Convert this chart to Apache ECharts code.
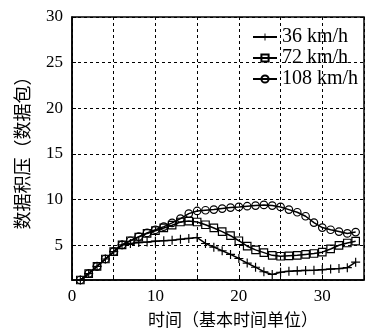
<!DOCTYPE html>
<html>
<head>
<meta charset="utf-8">
<script src="https://cdn.jsdelivr.net/npm/echarts@6/dist/echarts.min.js"></script>
<style>
html,body{margin:0;padding:0;background:#fff;}
#chart{width:367px;height:335px;}
</style>
</head>
<body>
<div id="chart"></div>
<script>
var times = [1,2,3,4,5,6,7,8,9,10,11,12,13,14,15,16,17,18,19,20,21,22,23,24,25,26,27,28,29,30,31,32,33,34];
var seriesNames = ['36 km/h', '72 km/h', '108 km/h'];
var v36 = [1.2,1.9,2.7,3.5,4.3,5.05,5.2,5.3,5.35,5.45,5.5,5.55,5.65,5.75,5.85,5.2,4.8,4.4,4.0,3.55,3.05,2.6,2.1,1.8,2.05,2.15,2.2,2.25,2.27,2.33,2.4,2.45,2.55,3.15];
var v72 = [1.2,1.9,2.7,3.5,4.3,5.05,5.5,5.9,6.3,6.6,6.9,7.2,7.55,7.65,7.55,7.25,6.9,6.5,6.05,5.5,4.9,4.5,4.2,3.9,3.8,3.85,3.9,4.0,4.1,4.25,4.6,5.0,5.25,5.45];
var v108 = [1.2,1.9,2.7,3.5,4.3,5.05,5.5,5.95,6.35,6.7,7.05,7.45,7.93,8.47,8.76,8.84,8.91,9.02,9.13,9.2,9.28,9.35,9.42,9.35,9.2,8.91,8.62,8.18,7.49,6.94,6.7,6.5,6.3,6.45];
var xName = '时间（基本时间单位）';
var yName = '数据积压（数据包）';

function pairs(vals){ return times.map(function(t,i){ return [t, vals[i]]; }); }

var serif = 'Liberation Serif';
var cjk = 'Noto Sans CJK SC';
var plus = 'path://M0,4.35H10V5.65H0Z M4.35,0H5.65V10H4.35Z';

function mk(name, vals, symbol, size, fillColor){
  return {
    name: name, type: 'line', data: pairs(vals),
    symbol: symbol, symbolSize: size, showAllSymbol: true,
    lineStyle: {color: '#000', width: 1.5},
    itemStyle: {color: fillColor, borderColor: '#000', borderWidth: symbol === plus ? 0 : 1.2},
    emphasis: {disabled: true},
    animation: false, z: 3
  };
}

var chart = echarts.init(document.getElementById('chart'), null, {renderer: 'canvas'});
chart.setOption({
  animation: false,
  backgroundColor: '#fff',
  grid: {left: 72, top: 17, right: -6, bottom: 55, show: true, borderColor: '#000', borderWidth: 1.5, backgroundColor: 'transparent'},
  legend: {
    orient: 'vertical', left: 252, top: 27, padding: 0, itemWidth: 24, itemHeight: 9, itemGap: 1,
    textStyle: {fontFamily: serif, fontSize: 20, color: '#000', lineHeight: 20},
    data: seriesNames
  },
  xAxis: {
    type: 'value', min: 0, max: 35, interval: 5,
    name: xName, nameLocation: 'middle', nameGap: 31,
    nameTextStyle: {fontFamily: cjk, fontSize: 17, color: '#000', padding: [0,0,0,30]},
    axisLine: {show: true, lineStyle: {color: '#000', width: 1.5}},
    axisTick: {show: true, inside: true, length: 4, lineStyle: {color: '#000'}},
    axisLabel: {fontFamily: serif, fontSize: 17, color: '#000', margin: 8,
      formatter: function(v){ return (v % 10 === 0) ? String(v) : ''; }},
    splitLine: {show: true, lineStyle: {color: '#000', width: 1, type: [3,3]}}
  },
  yAxis: {
    type: 'value', min: 1.2, max: 30, minInterval: 5, maxInterval: 5,
    name: yName, nameLocation: 'middle', nameGap: 41, nameRotate: 90,
    nameTextStyle: {fontFamily: cjk, fontSize: 18, color: '#000'},
    axisLine: {show: true, lineStyle: {color: '#000', width: 1.5}},
    axisTick: {show: true, inside: true, length: 4, lineStyle: {color: '#000'}},
    axisLabel: {fontFamily: serif, fontSize: 17, color: '#000', margin: 9, showMinLabel: false},
    splitLine: {show: true, lineStyle: {color: '#000', width: 1, type: [3,3]}}
  },
  series: [
    mk(seriesNames[0], v36, plus, 9, '#000'),
    mk(seriesNames[1], v72, 'rect', 7.5, 'rgba(255,255,255,0)'),
    mk(seriesNames[2], v108, 'circle', 7.5, 'rgba(255,255,255,0)')
  ]
});
</script>
</body>
</html>
